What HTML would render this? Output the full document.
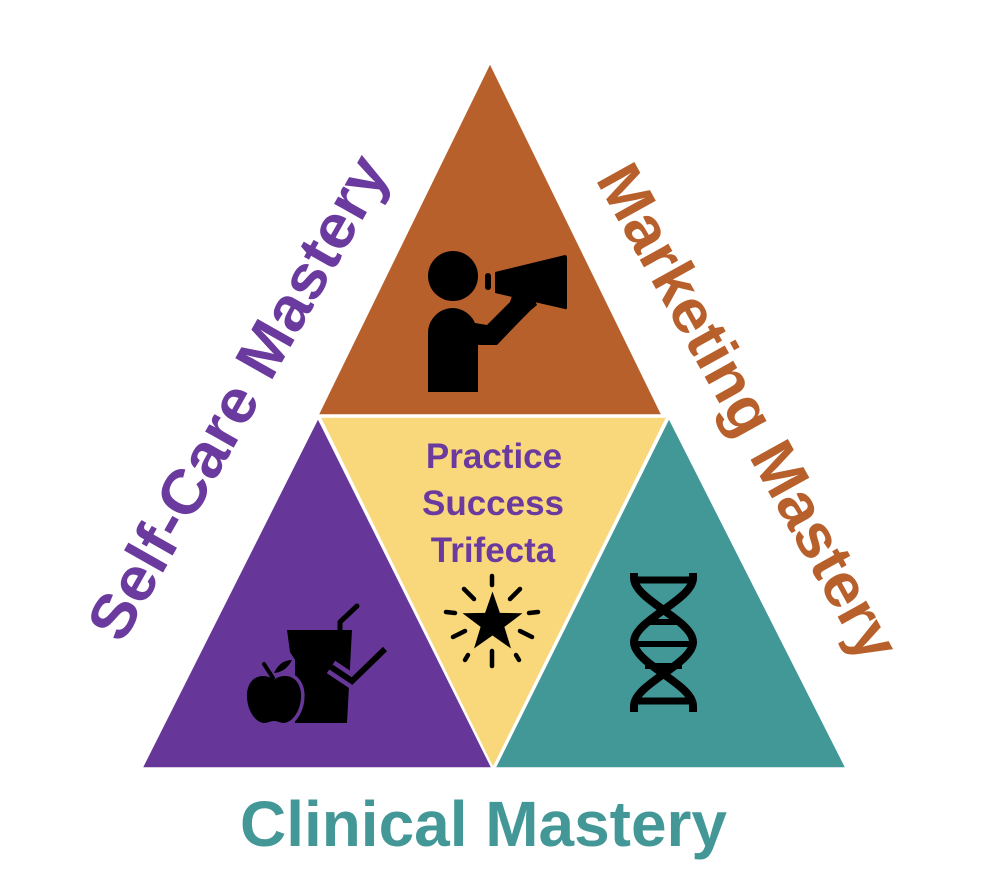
<!DOCTYPE html>
<html>
<head>
<meta charset="utf-8">
<style>
  html, body { margin: 0; padding: 0; background: #ffffff; }
  body { width: 998px; height: 878px; overflow: hidden; }
  svg { display: block; }
  text { font-family: "Liberation Sans", Arial, sans-serif; font-weight: bold; }
</style>
</head>
<body>
<svg width="998" height="878" viewBox="0 0 998 878" xmlns="http://www.w3.org/2000/svg">
  <rect x="0" y="0" width="998" height="878" fill="#ffffff"/>

  <!-- Triangles -->
  <polygon points="320,417 667,417 493,768" fill="#F9D87B" stroke="#ffffff" stroke-width="1.5"/>
  <polygon points="490,63 318,415 662,415" fill="#B8602B" stroke="#ffffff" stroke-width="1.5"/>
  <polygon points="318,418 142,768 492,768" fill="#663798" stroke="#ffffff" stroke-width="1.5"/>
  <polygon points="669,418 495,768 846,768" fill="#429797" stroke="#ffffff" stroke-width="1.5"/>

  <!-- Person with megaphone -->
  <g fill="#000000">
    <circle cx="453" cy="276" r="25"/>
    <path d="M428,392 L428,333 A25,25 0 0 1 453,308 A25,25 0 0 1 475,323 L487,325 L510,302 L512,296 L535,301 L537,305 L531,310 L522,319 L497,345 L478,345 L478,392 Z"/>
    <rect x="485" y="273" width="6" height="17" rx="3"/>
    <path d="M495,272 L565,255 Q567,255 567,258 L567,307 Q567,310 565,309 L495,293 Z"/>
  </g>

  <!-- Apple & drink icon -->
  <g>
    <polygon points="287,630 352,630 347,723 295,723 295,660 290,652" fill="#000000"/>
    <polyline points="340,631 340,622 357,606" fill="none" stroke="#000000" stroke-width="5" stroke-linecap="round" stroke-linejoin="round"/>
    <polyline points="331,667 352,681 385,649" fill="none" stroke="#663798" stroke-width="15" stroke-linejoin="miter"/>
    <polyline points="331,667 352,681 385,649" fill="none" stroke="#000000" stroke-width="6" stroke-linejoin="miter"/>
    <rect x="320" y="640" width="0" height="0" fill="none"/>
    <path d="M274,680 C266,673 249,674 247,693 C246,708 254,722 264,723 C268,723 270,721 274,721 C278,721 280,723 284,723 C294,722 302,708 301,693 C299,674 282,673 274,680 Z"
          fill="#000000" stroke="#663798" stroke-width="7" paint-order="stroke"/>
    <line x1="273" y1="678" x2="264" y2="664" stroke="#000000" stroke-width="4" stroke-linecap="round"/>
    <path d="M274,673 Q280,660 292,660 Q286,672 274,673 Z" fill="#000000"/>
  </g>

  <!-- DNA icon -->
  <g stroke="#000000" fill="none">
    <line x1="632" y1="580" x2="695" y2="580" stroke-width="7"/>
    <line x1="632" y1="701" x2="695" y2="701" stroke-width="7"/>
    <line x1="645" y1="622" x2="682" y2="622" stroke-width="6"/>
    <line x1="638" y1="644" x2="690" y2="644" stroke-width="6"/>
    <line x1="645" y1="666" x2="682" y2="666" stroke-width="6"/>
    <path d="M634,573 L634,578 C634,600 693,620 693,642 C693,664 634,684 634,706 L634,712" stroke-width="8"/>
    <path d="M693,573 L693,578 C693,600 634,620 634,642 C634,664 693,684 693,706 L693,712" stroke-width="8"/>
  </g>

  <!-- Star icon -->
  <polygon points="492.5,591.5 499.9,612.9 522.5,613.3 504.4,626.9 511,648.5 492.5,635.5 474,648.5 480.6,626.9 462.5,613.3 485.1,612.9" fill="#000000"/>
  <g stroke="#000000" stroke-width="4.5" stroke-linecap="round">
    <line x1="492" y1="576" x2="492" y2="585"/>
    <line x1="464" y1="589" x2="474" y2="599"/>
    <line x1="520" y1="589" x2="510" y2="599"/>
    <line x1="446" y1="612" x2="455" y2="613"/>
    <line x1="529" y1="613" x2="538" y2="612"/>
    <line x1="453" y1="637" x2="465" y2="631"/>
    <line x1="532" y1="637" x2="520" y2="631"/>
    <line x1="465" y1="660" x2="468" y2="655"/>
    <line x1="519" y1="660" x2="516" y2="655"/>
    <line x1="492" y1="651" x2="492" y2="666"/>
  </g>

  <!-- Center text -->
  <g fill="#6B3A9E" font-size="35" text-anchor="middle">
    <text x="494" y="468">Practice</text>
    <text x="493" y="515">Success</text>
    <text x="493" y="562">Trifecta</text>
  </g>

  <!-- Side labels -->
  <text x="122" y="645" font-size="62" fill="#6B3A9E" textLength="545" lengthAdjust="spacingAndGlyphs"
        transform="rotate(-60.5 122 645)">Self-Care Mastery</text>
  <text x="595" y="179" font-size="62" fill="#B8602B" textLength="556" lengthAdjust="spacingAndGlyphs"
        transform="rotate(61 595 179)">Marketing Mastery</text>

  <!-- Bottom label -->
  <text x="240" y="846" font-size="64" fill="#449797" textLength="487" lengthAdjust="spacingAndGlyphs">Clinical Mastery</text>
</svg>
</body>
</html>
